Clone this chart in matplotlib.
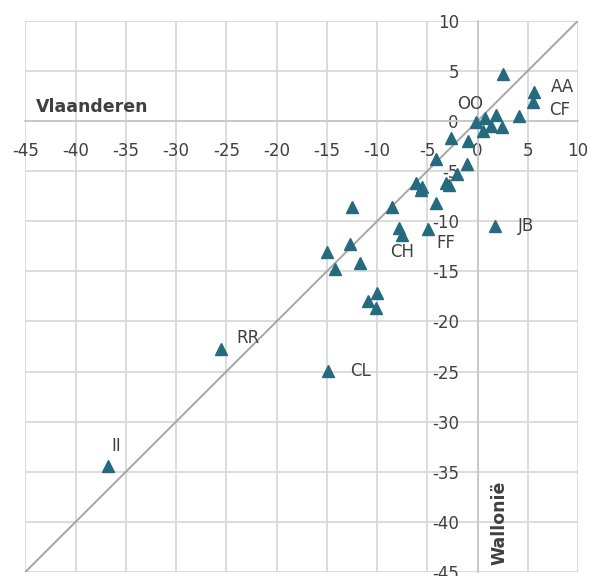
import matplotlib.pyplot as plt
import numpy as np

plt.rcParams['axes.unicode_minus'] = False

# Vlaanderen (x) vs Wallonië (y)
x_vals = [2.5, 5.65, 5.5, 4.1, 1.8, 0.7, -0.2, 1.3, 2.4, 0.5, -2.6, -0.9,
          -4.1, -1.0, -2.0, -6.1, -5.5, -5.6, -3.1, -2.8, -4.1, -8.5,
          -7.8, -7.5, -4.9, 1.75, -12.5, -12.7, -15.0, -11.7, -14.2,
          -10.0, -10.9, -10.1, -25.5, -14.9, -36.8]
y_vals = [4.7, 2.9, 1.9, 0.5, 0.6, 0.25, -0.1, -0.55, -0.6, -1.05, -1.7, -1.95,
          -3.75, -4.25, -5.3, -6.2, -6.6, -6.9, -6.2, -6.4, -8.2, -8.6,
          -10.7, -11.4, -10.8, -10.5, -8.6, -12.3, -13.1, -14.2, -14.8,
          -17.15, -17.95, -18.7, -22.8, -24.9, -34.4]

# labelled points: index into the arrays, label text, offset in pixels
labels = ['AA', 'CF', 'OO', 'CH', 'FF', 'JB', 'RR', 'CL', 'II']
label_idx = [1, 2, 6, 23, 24, 25, 34, 35, 36]
label_off = [(17, 5, 'left'), (16, -8, 'left'), (-5, 18, 'center'),
             (0, -17, 'center'), (8, -14, 'left'), (23, 0, 'left'),
             (15, 11, 'left'), (22, 0, 'left'), (4, 20, 'left')]

ticks = np.arange(-45, 11, 5)

text_col = '#404040'
marker_col = '#256a7e'

fig = plt.figure(figsize=(5.91, 5.76), dpi=100)
ax = fig.add_axes([0.043, 0.007, 0.935, 0.957])

ax.set_xlim(-45, 10)
ax.set_ylim(-45, 10)
ax.set_xticks(ticks)
ax.set_yticks(ticks)
ax.grid(True, color='#d9d9d9', lw=1.3, zorder=0)
ax.set_axisbelow(True)

for s in ['top', 'right']:
    ax.spines[s].set_visible(False)
ax.spines['left'].set_position(('data', 0))
ax.spines['bottom'].set_position(('data', 0))
ax.spines['left'].set_color('#c8c8c8')
ax.spines['bottom'].set_color('#c8c8c8')
ax.spines['left'].set_linewidth(1.3)
ax.spines['bottom'].set_linewidth(1.3)

ax.tick_params(axis='x', length=0, pad=15, labelsize=12, labelcolor=text_col)
ax.tick_params(axis='y', length=0, pad=13.5, labelsize=12, labelcolor=text_col)
for lab in ax.get_xticklabels() + ax.get_yticklabels():
    lab.set_clip_on(False)

ax.plot([-45, 10], [-45, 10], color='#a6a6a6', lw=1.4, zorder=2)
ax.plot(x_vals, y_vals, ls='none', marker='^', ms=9, color=marker_col, zorder=3)

for lab, i, (dx, dy, ha) in zip(labels, label_idx, label_off):
    ax.annotate(lab, (x_vals[i], y_vals[i]), xytext=(dx, dy),
                textcoords='offset pixels', ha=ha, va='center',
                fontsize=12, color=text_col)

ax.text(-44, 0.5, 'Vlaanderen', fontsize=12.5, fontweight='bold',
        color=text_col, ha='left', va='bottom')
ax.text(1.3, -44.3, 'Wallonië', fontsize=12.5, fontweight='bold',
        color=text_col, rotation=90, ha='left', va='bottom')

fig.savefig('out.png', dpi=100)
